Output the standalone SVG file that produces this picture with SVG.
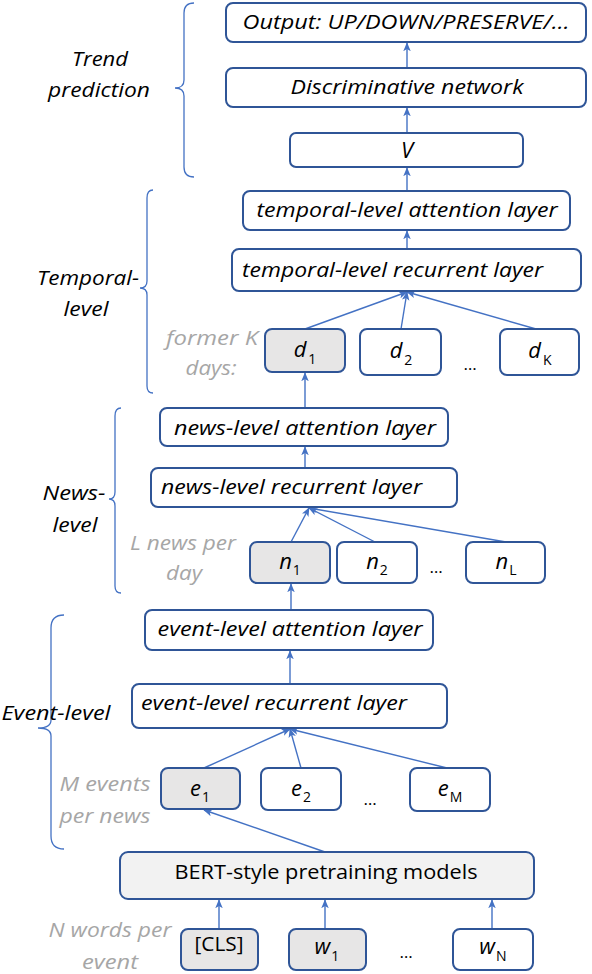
<svg xmlns="http://www.w3.org/2000/svg" width="592" height="974" viewBox="0 0 592 974">
<style>
.box{fill:#ffffff;stroke:#2F5597;stroke-width:2}
.gbox{fill:#E7E6E6;stroke:#2F5597;stroke-width:2}
.bbox{fill:#F2F2F2;stroke:#2F5597;stroke-width:2}
.t{font-family:"Open Sans","Liberation Sans",sans-serif;font-size:20px;font-style:italic;fill:#000}
.tu{font-family:"Open Sans","Liberation Sans",sans-serif;font-size:20px;fill:#000}
.g{font-family:"Open Sans","Liberation Sans",sans-serif;font-size:20px;font-style:italic;fill:#A6A6A6}
.v{font-family:"Open Sans","Liberation Sans",sans-serif;font-size:22px;font-style:italic;fill:#000}
.sub{font-size:14px;font-style:normal}
.dots{font-family:"Open Sans","Liberation Sans",sans-serif;font-size:17px;fill:#000}
.c{fill:none;stroke:#4472C4;stroke-width:1.4;marker-end:url(#ah)}
.br{fill:none;stroke:#4472C4;stroke-width:1.3}
</style>
<defs>
<marker id="ah" viewBox="0 0 12 10" refX="11" refY="5" markerWidth="9" markerHeight="8" markerUnits="userSpaceOnUse" orient="auto">
<path d="M0,0 L12,5 L0,10 L3,5 z" fill="#4472C4"/>
</marker>
</defs>

<g id="braces">
<path class="br" d="M194,3 Q184,3 184,13 L184,80 Q184,88 175,88 Q184,88 184,96 L184,167 Q184,177 194,177"/>
<path class="br" d="M153,190 Q147,190 147,198 L147,281 Q147,288 140,288 Q147,288 147,295 L147,386 Q147,393 153,393"/>
<path class="br" d="M121,408 Q115,408 115,416 L115,492 Q115,499 109,499 Q115,499 115,506 L115,586 Q115,593 121,593"/>
<path class="br" d="M64,615 Q51,615 51,628 L51,720 Q51,728 38,728 Q51,728 51,736 L51,836 Q51,849 64,849"/>
</g>

<g id="labels">
<text class="t" x="100" y="66" text-anchor="middle" textLength="56" lengthAdjust="spacingAndGlyphs">Trend</text>
<text class="t" x="99" y="97" text-anchor="middle" textLength="102" lengthAdjust="spacingAndGlyphs">prediction</text>
<text class="t" x="88" y="285" text-anchor="middle" textLength="102" lengthAdjust="spacingAndGlyphs">Temporal-</text>
<text class="t" x="86" y="316" text-anchor="middle" textLength="45" lengthAdjust="spacingAndGlyphs">level</text>
<text class="t" x="74" y="500" text-anchor="middle" textLength="63" lengthAdjust="spacingAndGlyphs">News-</text>
<text class="t" x="75" y="532" text-anchor="middle" textLength="45" lengthAdjust="spacingAndGlyphs">level</text>
<text class="t" x="56" y="720" text-anchor="middle" textLength="109" lengthAdjust="spacingAndGlyphs">Event-level</text>
<text class="g" x="212" y="345" text-anchor="middle" textLength="92" lengthAdjust="spacingAndGlyphs">former K</text>
<text class="g" x="211" y="375" text-anchor="middle" textLength="51" lengthAdjust="spacingAndGlyphs">days:</text>
<text class="g" x="183" y="550" text-anchor="middle" textLength="106" lengthAdjust="spacingAndGlyphs">L news per</text>
<text class="g" x="184" y="580" text-anchor="middle" textLength="36" lengthAdjust="spacingAndGlyphs">day</text>
<text class="g" x="105" y="791" text-anchor="middle" textLength="91" lengthAdjust="spacingAndGlyphs">M events</text>
<text class="g" x="105" y="823" text-anchor="middle" textLength="91" lengthAdjust="spacingAndGlyphs">per news</text>
<text class="g" x="110" y="937" text-anchor="middle" textLength="123" lengthAdjust="spacingAndGlyphs">N words per</text>
<text class="g" x="110" y="969" text-anchor="middle" textLength="56" lengthAdjust="spacingAndGlyphs">event</text>
<text class="dots" x="470" y="370" text-anchor="middle">…</text>
<text class="dots" x="436" y="573" text-anchor="middle">…</text>
<text class="dots" x="370" y="805" text-anchor="middle">…</text>
<text class="dots" x="406" y="958" text-anchor="middle">…</text>
</g>

<g id="connectors">
<line class="c" x1="407" y1="68" x2="407" y2="43"/>
<line class="c" x1="407" y1="133" x2="407" y2="108"/>
<line class="c" x1="407" y1="191" x2="407" y2="168"/>
<line class="c" x1="407" y1="249" x2="407" y2="231"/>
<line class="c" x1="305" y1="329" x2="407" y2="292"/>
<line class="c" x1="401" y1="329" x2="407" y2="292"/>
<line class="c" x1="536" y1="329" x2="407" y2="292"/>
<line class="c" x1="305" y1="408" x2="305" y2="373"/>
<line class="c" x1="305" y1="468" x2="305" y2="447"/>
<line class="c" x1="291" y1="542" x2="309" y2="508"/>
<line class="c" x1="375" y1="542" x2="309" y2="508"/>
<line class="c" x1="506" y1="542" x2="309" y2="508"/>
<line class="c" x1="291" y1="610" x2="291" y2="584"/>
<line class="c" x1="290" y1="684" x2="290" y2="651"/>
<line class="c" x1="204" y1="768" x2="290" y2="729"/>
<line class="c" x1="301" y1="768" x2="290" y2="729"/>
<line class="c" x1="447" y1="768" x2="290" y2="729"/>
<line class="c" x1="325" y1="852" x2="204" y2="810"/>
<line class="c" x1="219" y1="929" x2="219" y2="900"/>
<line class="c" x1="325" y1="929" x2="325" y2="900"/>
<line class="c" x1="492" y1="929" x2="492" y2="900"/>
</g>

<g id="output"><rect class="box" x="226" y="3" width="360" height="39" rx="7"/><text class="t" x="406" y="29" text-anchor="middle" textLength="327" lengthAdjust="spacingAndGlyphs">Output: UP/DOWN/PRESERVE/…</text></g>
<g id="discriminative"><rect class="box" x="226" y="68" width="360" height="39" rx="7"/><text class="t" x="407" y="94" text-anchor="middle" textLength="233" lengthAdjust="spacingAndGlyphs">Discriminative network</text></g>
<g id="v"><rect class="box" x="290" y="133" width="233" height="34" rx="6"/><text class="v" x="407" y="158" text-anchor="middle">V</text></g>
<g id="temporal-attention"><rect class="box" x="243" y="191" width="327" height="39" rx="7"/><text class="t" x="407" y="217" text-anchor="middle" textLength="301" lengthAdjust="spacingAndGlyphs">temporal-level attention layer</text></g>
<g id="temporal-recurrent"><rect class="box" x="232" y="249" width="349" height="42" rx="7"/><text class="t" x="242" y="277" textLength="301" lengthAdjust="spacingAndGlyphs">temporal-level recurrent layer</text></g>
<g id="d1"><rect class="gbox" x="265" y="329" width="80" height="43" rx="7"/><text class="v" x="305" y="357" text-anchor="middle">d<tspan class="sub" dx="2" dy="7">1</tspan></text></g>
<g id="d2"><rect class="box" x="360" y="329" width="81" height="46" rx="7"/><text class="v" x="401" y="358" text-anchor="middle">d<tspan class="sub" dx="2" dy="7">2</tspan></text></g>
<g id="dK"><rect class="box" x="500" y="329" width="79" height="46" rx="7"/><text class="v" x="540" y="358" text-anchor="middle">d<tspan class="sub" dx="2" dy="7">K</tspan></text></g>
<g id="news-attention"><rect class="box" x="160" y="408" width="288" height="38" rx="7"/><text class="t" x="305" y="435" text-anchor="middle" textLength="262" lengthAdjust="spacingAndGlyphs">news-level attention layer</text></g>
<g id="news-recurrent"><rect class="box" x="151" y="468" width="306" height="39" rx="7"/><text class="t" x="161" y="494" textLength="261" lengthAdjust="spacingAndGlyphs">news-level recurrent layer</text></g>
<g id="n1"><rect class="gbox" x="250" y="542" width="80" height="41" rx="7"/><text class="v" x="290" y="569" text-anchor="middle">n<tspan class="sub" dx="1" dy="6">1</tspan></text></g>
<g id="n2"><rect class="box" x="337" y="542" width="80" height="41" rx="7"/><text class="v" x="377" y="569" text-anchor="middle">n<tspan class="sub" dx="1" dy="6">2</tspan></text></g>
<g id="nL"><rect class="box" x="466" y="542" width="79" height="41" rx="7"/><text class="v" x="506" y="569" text-anchor="middle">n<tspan class="sub" dx="1" dy="6">L</tspan></text></g>
<g id="event-attention"><rect class="box" x="145" y="610" width="288" height="40" rx="7"/><text class="t" x="290" y="636" text-anchor="middle" textLength="265" lengthAdjust="spacingAndGlyphs">event-level attention layer</text></g>
<g id="event-recurrent"><rect class="box" x="132" y="684" width="315" height="44" rx="7"/><text class="t" x="141" y="710" textLength="266" lengthAdjust="spacingAndGlyphs">event-level recurrent layer</text></g>
<g id="e1"><rect class="gbox" x="161" y="768" width="79" height="41" rx="7"/><text class="v" x="200" y="796" text-anchor="middle">e<tspan class="sub" dx="1" dy="6">1</tspan></text></g>
<g id="e2"><rect class="box" x="261" y="768" width="80" height="42" rx="7"/><text class="v" x="301" y="796" text-anchor="middle">e<tspan class="sub" dx="1" dy="6">2</tspan></text></g>
<g id="eM"><rect class="box" x="410" y="768" width="80" height="43" rx="7"/><text class="v" x="450" y="796" text-anchor="middle">e<tspan class="sub" dx="1" dy="6">M</tspan></text></g>
<g id="bert"><rect class="bbox" x="120" y="852" width="414" height="47" rx="8"/><text class="tu" x="326" y="879" text-anchor="middle" textLength="303" lengthAdjust="spacingAndGlyphs">BERT-style pretraining models</text></g>
<g id="cls"><rect class="gbox" x="181" y="929" width="77" height="41" rx="7"/><text class="tu" x="219" y="951" text-anchor="middle" textLength="49" lengthAdjust="spacingAndGlyphs">[CLS]</text></g>
<g id="w1"><rect class="gbox" x="289" y="929" width="77" height="41" rx="7"/><text class="v" x="327" y="954" text-anchor="middle">w<tspan class="sub" dx="1" dy="7">1</tspan></text></g>
<g id="wN"><rect class="box" x="453" y="929" width="80" height="41" rx="7"/><text class="v" x="493" y="954" text-anchor="middle">w<tspan class="sub" dx="1" dy="7">N</tspan></text></g>
</svg>
